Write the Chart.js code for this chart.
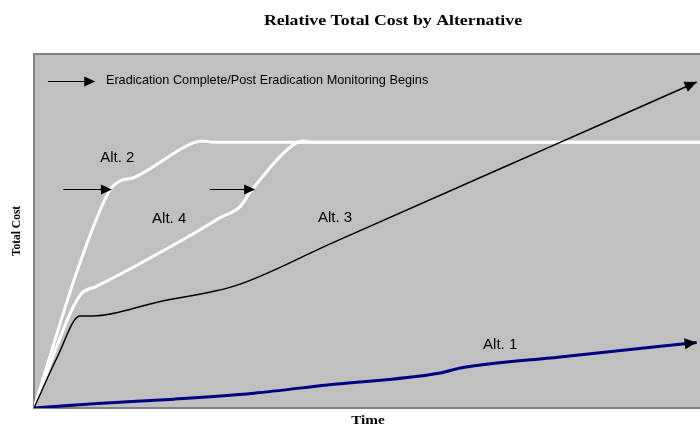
<!DOCTYPE html>
<html>
<head>
<meta charset="utf-8">
<script src="https://cdn.jsdelivr.net/npm/chart.js@4.4.1/dist/chart.umd.min.js"></script>
<style>
html,body{margin:0;padding:0;background:#fff;}
#wrap{width:700px;height:430px;position:relative;}
</style>
</head>
<body>
<div id="wrap"><canvas id="c" width="700" height="430"></canvas></div>
<script>
// Time axis runs 0..100, relative cost axis 0..100 (no ticks shown)
const titleText = 'Relative Total Cost by Alternative';
const xAxisLabel = 'Time';
const yAxisLabel = 'Total Cost';
const legendText = 'Eradication Complete/Post Eradication Monitoring Begins';

const alt1X = [0, 9, 21, 33, 44, 61, 64, 79, 99.5];
const alt1Y = [0, 1.2, 2.5, 4.2, 6.5, 9.9, 11.3, 14.4, 18.5];

const alt2X = [0, 6.9, 11.4, 13.0, 14.9, 23.9, 25.4, 26.9, 100];
const alt2Y = [0, 41.0, 61.6, 64.2, 65.0, 74.9, 75.4, 75.1, 75.1];

const alt3X = [0, 3.5, 6.9, 8.9, 18.5, 30.5, 44.4, 70.0, 85.0, 99.5];
const alt3Y = [0, 14.4, 26.0, 26.0, 29.9, 34.7, 46.3, 67.6, 80.0, 92.1];

const alt4X = [0, 5.5, 7.2, 9.2, 24.9, 27.9, 30.9, 32.7, 38.9, 40.4, 41.9, 100];
const alt4Y = [0, 27, 32.5, 34.2, 50.3, 53.7, 56.8, 61.6, 74.3, 75.4, 75.1, 75.1];

// annotation labels
const labelTexts = ['Alt. 2', 'Alt. 4', 'Alt. 3', 'Alt. 1'];
const labelX = [12.5, 20.3, 45.2, 70.0];
const labelY = [70.6, 53.4, 53.7, 17.8];

// "eradication complete" marker arrows: start x, end x, y
const markerX0 = [2.1, 4.4, 26.4];
const markerX1 = [9.2, 11.7, 33.2];
const markerY = [92.4, 61.9, 61.9];
const legendTextX = 10.8;

function pts(xs, ys){ return xs.map((x,i)=>({x:x, y:ys[i]})); }

function arrowHead(ctx, x0, y0, x1, y1, len, half){
  const a = Math.atan2(y1-y0, x1-x0);
  ctx.beginPath();
  ctx.moveTo(x1, y1);
  ctx.lineTo(x1 - len*Math.cos(a) + half*Math.sin(a), y1 - len*Math.sin(a) - half*Math.cos(a));
  ctx.lineTo(x1 - len*Math.cos(a) - half*Math.sin(a), y1 - len*Math.sin(a) + half*Math.cos(a));
  ctx.closePath();
  ctx.fill();
}

function stretchedText(ctx, text, x, y, sx){
  ctx.save();
  ctx.translate(x, y);
  ctx.scale(sx, 1);
  ctx.fillText(text, 0, 0);
  ctx.restore();
}

const decor = {
  id: 'decor',
  beforeDatasetsDraw(chart){
    const ctx = chart.ctx, a = chart.chartArea;
    ctx.save();
    ctx.fillStyle = '#C0C0C0';
    ctx.fillRect(a.left, a.top, a.right - a.left, a.bottom - a.top);
    ctx.strokeStyle = '#808080';
    ctx.lineWidth = 2;
    ctx.beginPath();
    ctx.moveTo(a.right + 2, a.top);
    ctx.lineTo(a.left, a.top);
    ctx.lineTo(a.left, a.bottom);
    ctx.lineTo(a.right + 2, a.bottom);
    ctx.stroke();
    ctx.restore();
  },
  afterDatasetsDraw(chart){
    const ctx = chart.ctx, xs = chart.scales.x, ys = chart.scales.y;
    ctx.save();
    const n1 = alt1X.length - 1, n3 = alt3X.length - 1;
    ctx.fillStyle = '#000000';
    arrowHead(ctx, xs.getPixelForValue(alt1X[n1-1]), ys.getPixelForValue(alt1Y[n1-1]),
      xs.getPixelForValue(alt1X[n1]), ys.getPixelForValue(alt1Y[n1]), 12, 5.5);
    arrowHead(ctx, xs.getPixelForValue(alt3X[n3-1]), ys.getPixelForValue(alt3Y[n3-1]),
      xs.getPixelForValue(alt3X[n3]), ys.getPixelForValue(alt3Y[n3]), 12, 5.5);
    ctx.strokeStyle = '#000000';
    ctx.lineWidth = 1.2;
    for (let i = 0; i < markerX0.length; i++){
      const px0 = xs.getPixelForValue(markerX0[i]);
      const px1 = xs.getPixelForValue(markerX1[i]);
      const py = Math.round(ys.getPixelForValue(markerY[i])) + 0.5;
      ctx.beginPath();
      ctx.moveTo(px0, py);
      ctx.lineTo(px1 - 8, py);
      ctx.stroke();
      arrowHead(ctx, px0, py, px1, py, 11, 5);
    }
    ctx.fillStyle = '#000000';
    ctx.textBaseline = 'middle';
    ctx.font = '12.7px "Liberation Sans", Arial, sans-serif';
    ctx.textAlign = 'left';
    ctx.fillText(legendText, xs.getPixelForValue(legendTextX), ys.getPixelForValue(markerY[0]));
    ctx.font = '15px "Liberation Sans", Arial, sans-serif';
    ctx.textAlign = 'center';
    for (let i = 0; i < labelTexts.length; i++){
      ctx.fillText(labelTexts[i], xs.getPixelForValue(labelX[i]), ys.getPixelForValue(labelY[i]));
    }
    ctx.restore();
  },
  afterDraw(chart){
    const ctx = chart.ctx, a = chart.chartArea;
    ctx.save();
    ctx.fillStyle = '#000000';
    ctx.textAlign = 'center';
    ctx.textBaseline = 'middle';
    ctx.font = 'bold 14px "Liberation Serif", "Times New Roman", serif';
    stretchedText(ctx, titleText, 393, 21, 1.27);
    ctx.font = 'bold 12px "Liberation Serif", "Times New Roman", serif';
    stretchedText(ctx, xAxisLabel, 368, 421, 1.27);
    ctx.translate(17, (a.top + a.bottom) / 2);
    ctx.rotate(-Math.PI / 2);
    ctx.font = 'bold 11.5px "Liberation Serif", "Times New Roman", serif';
    ctx.fillText(yAxisLabel, 0, 0);
    ctx.restore();
  }
};

const common = { pointRadius: 0, fill: false, cubicInterpolationMode: 'monotone' };

new Chart(document.getElementById('c'), {
  type: 'line',
  data: {
    datasets: [
      Object.assign({ label: 'Alt. 3', data: pts(alt3X, alt3Y), borderColor: '#000000', borderWidth: 1.5, order: 1 }, common),
      Object.assign({ label: 'Alt. 1', data: pts(alt1X, alt1Y), borderColor: '#000080', borderWidth: 3, order: 2 }, common),
      Object.assign({ label: 'Alt. 2', data: pts(alt2X, alt2Y), borderColor: '#FFFFFF', borderWidth: 3, order: 3 }, common),
      Object.assign({ label: 'Alt. 4', data: pts(alt4X, alt4Y), borderColor: '#FFFFFF', borderWidth: 3, order: 4 }, common)
    ]
  },
  options: {
    responsive: false,
    animation: false,
    layout: { padding: { left: 34, top: 54, right: 0, bottom: 22 } },
    scales: {
      x: { type: 'linear', min: 0, max: 100, display: false },
      y: { min: 0, max: 100, display: false }
    },
    plugins: { legend: { display: false }, title: { display: false }, tooltip: { enabled: false } }
  },
  plugins: [decor]
});
</script>
</body>
</html>
